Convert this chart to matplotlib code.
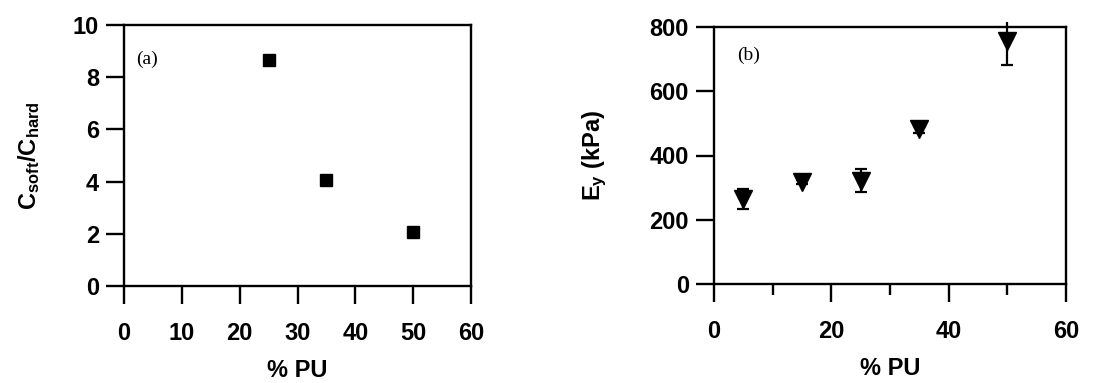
import numpy as np
import matplotlib
matplotlib.use("Agg")
import matplotlib.pyplot as plt
from matplotlib.ticker import MultipleLocator

plt.rcParams['font.family'] = ['Liberation Sans', 'DejaVu Sans']
plt.rcParams['font.weight'] = 'bold'
plt.rcParams['mathtext.fontset'] = 'custom'
plt.rcParams['mathtext.rm'] = 'Liberation Sans:bold'
plt.rcParams['mathtext.it'] = 'Liberation Sans:bold'
plt.rcParams['mathtext.bf'] = 'Liberation Sans:bold'

# panel (a): concentration ratio
pu_a = [25, 35, 50]
c_ratio = [8.65, 4.05, 2.05]

# panel (b): Young's modulus
pu_b = [5, 15, 25, 35, 50]
ey = [265, 317, 321, 482, 757]
ey_err_lo = [31, 6, 36, 12, 74]
ey_err_hi = [31, 6, 36, 12, 58]

fig = plt.figure(figsize=(11.11, 3.83), dpi=100)
W, H = 1111, 383
ax1 = fig.add_axes([124 / W, 1 - 286 / H, (471 - 124) / W, (286 - 25) / H])
ax2 = fig.add_axes([714 / W, 1 - 284 / H, (1066 - 714) / W, (284 - 27) / H])


def style(ax):
    for s in ax.spines.values():
        s.set_linewidth(1.7)
    ax.tick_params(which='major', direction='out', length=13, width=1.7,
                   labelsize=17)
    ax.tick_params(which='minor', direction='out', length=8, width=1.7)
    ax.tick_params(axis='x', which='major', pad=13)
    ax.tick_params(axis='y', which='major', pad=5)


# (a)
ax1.plot(pu_a, c_ratio, 's', color='black', markersize=8, clip_on=False)
ax1.set_xlim(0, 60)
ax1.set_ylim(0, 10)
ax1.xaxis.set_major_locator(MultipleLocator(10))
ax1.yaxis.set_major_locator(MultipleLocator(2))
style(ax1)
ax1.set_xlabel('% PU', fontsize=17, fontweight='bold', labelpad=10)
ax1.set_ylabel(r'C$_{\mathrm{soft}}$/C$_{\mathrm{hard}}$', fontsize=17,
               fontweight='bold', labelpad=22)
ax1.text(0.035, 0.87, '(a)', transform=ax1.transAxes, fontsize=14,
         family='Liberation Serif', fontweight='normal', va='center')

# (b)
line, caps, bars = ax2.errorbar(pu_b, ey, yerr=[ey_err_lo, ey_err_hi],
                                fmt='v', color='black', markersize=13,
                                capsize=4, elinewidth=1.6, capthick=1.6,
                                clip_on=False)
# caps outside the frame are cut, the bar itself runs past the top
for c in caps:
    c.set_clip_on(True)
ax2.set_xlim(0, 60)
ax2.set_ylim(0, 800)
ax2.xaxis.set_major_locator(MultipleLocator(20))
ax2.xaxis.set_minor_locator(MultipleLocator(10))
ax2.yaxis.set_major_locator(MultipleLocator(200))
style(ax2)
ax2.set_xlabel('% PU', fontsize=17, fontweight='bold', labelpad=10)
ax2.set_ylabel(r'E$_{\mathrm{y}}$ (kPa)', fontsize=17, fontweight='bold',
               labelpad=29)
ax2.text(0.065, 0.89, '(b)', transform=ax2.transAxes, fontsize=14,
         family='Liberation Serif', fontweight='normal', va='center')

fig.savefig('out.png', dpi=100)
